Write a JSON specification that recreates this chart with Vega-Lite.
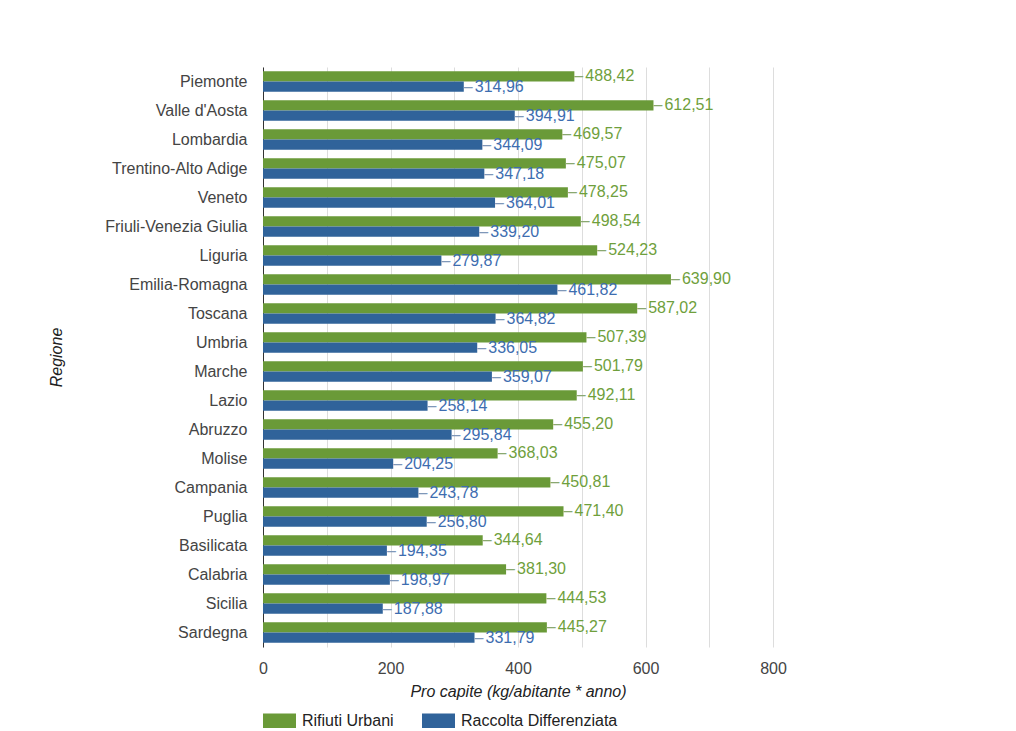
{
  "$schema": "https://vega.github.io/schema/vega-lite/v6.json",
  "width": 510,
  "height": 580,
  "autosize": {"type": "none"},
  "padding": {"left": 263, "top": 67, "right": 243, "bottom": 84},
  "background": "#ffffff",
  "data": {
    "values": [
      {"regione": "Piemonte", "serie": "Rifiuti Urbani", "valore": 488.42},
      {"regione": "Piemonte", "serie": "Raccolta Differenziata", "valore": 314.96},
      {"regione": "Valle d'Aosta", "serie": "Rifiuti Urbani", "valore": 612.51},
      {"regione": "Valle d'Aosta", "serie": "Raccolta Differenziata", "valore": 394.91},
      {"regione": "Lombardia", "serie": "Rifiuti Urbani", "valore": 469.57},
      {"regione": "Lombardia", "serie": "Raccolta Differenziata", "valore": 344.09},
      {"regione": "Trentino-Alto Adige", "serie": "Rifiuti Urbani", "valore": 475.07},
      {"regione": "Trentino-Alto Adige", "serie": "Raccolta Differenziata", "valore": 347.18},
      {"regione": "Veneto", "serie": "Rifiuti Urbani", "valore": 478.25},
      {"regione": "Veneto", "serie": "Raccolta Differenziata", "valore": 364.01},
      {"regione": "Friuli-Venezia Giulia", "serie": "Rifiuti Urbani", "valore": 498.54},
      {"regione": "Friuli-Venezia Giulia", "serie": "Raccolta Differenziata", "valore": 339.20},
      {"regione": "Liguria", "serie": "Rifiuti Urbani", "valore": 524.23},
      {"regione": "Liguria", "serie": "Raccolta Differenziata", "valore": 279.87},
      {"regione": "Emilia-Romagna", "serie": "Rifiuti Urbani", "valore": 639.90},
      {"regione": "Emilia-Romagna", "serie": "Raccolta Differenziata", "valore": 461.82},
      {"regione": "Toscana", "serie": "Rifiuti Urbani", "valore": 587.02},
      {"regione": "Toscana", "serie": "Raccolta Differenziata", "valore": 364.82},
      {"regione": "Umbria", "serie": "Rifiuti Urbani", "valore": 507.39},
      {"regione": "Umbria", "serie": "Raccolta Differenziata", "valore": 336.05},
      {"regione": "Marche", "serie": "Rifiuti Urbani", "valore": 501.79},
      {"regione": "Marche", "serie": "Raccolta Differenziata", "valore": 359.07},
      {"regione": "Lazio", "serie": "Rifiuti Urbani", "valore": 492.11},
      {"regione": "Lazio", "serie": "Raccolta Differenziata", "valore": 258.14},
      {"regione": "Abruzzo", "serie": "Rifiuti Urbani", "valore": 455.20},
      {"regione": "Abruzzo", "serie": "Raccolta Differenziata", "valore": 295.84},
      {"regione": "Molise", "serie": "Rifiuti Urbani", "valore": 368.03},
      {"regione": "Molise", "serie": "Raccolta Differenziata", "valore": 204.25},
      {"regione": "Campania", "serie": "Rifiuti Urbani", "valore": 450.81},
      {"regione": "Campania", "serie": "Raccolta Differenziata", "valore": 243.78},
      {"regione": "Puglia", "serie": "Rifiuti Urbani", "valore": 471.40},
      {"regione": "Puglia", "serie": "Raccolta Differenziata", "valore": 256.80},
      {"regione": "Basilicata", "serie": "Rifiuti Urbani", "valore": 344.64},
      {"regione": "Basilicata", "serie": "Raccolta Differenziata", "valore": 194.35},
      {"regione": "Calabria", "serie": "Rifiuti Urbani", "valore": 381.30},
      {"regione": "Calabria", "serie": "Raccolta Differenziata", "valore": 198.97},
      {"regione": "Sicilia", "serie": "Rifiuti Urbani", "valore": 444.53},
      {"regione": "Sicilia", "serie": "Raccolta Differenziata", "valore": 187.88},
      {"regione": "Sardegna", "serie": "Rifiuti Urbani", "valore": 445.27},
      {"regione": "Sardegna", "serie": "Raccolta Differenziata", "valore": 331.79}
    ]
  },
  "encoding": {
    "y": {
      "field": "regione",
      "type": "nominal",
      "sort": null,
      "scale": {"paddingInner": 0.3, "paddingOuter": 0.15},
      "axis": {
        "title": "Regione",
        "titleFontStyle": "italic",
        "titleFontWeight": "normal",
        "titleFontSize": 16,
        "titleColor": "#222222",
        "titlePadding": 40,
        "labelFontSize": 16,
        "labelColor": "#444444",
        "labelPadding": 16,
        "ticks": false,
        "domainColor": "#333333",
        "grid": false
      }
    },
    "yOffset": {
      "field": "serie",
      "type": "nominal",
      "sort": ["Rifiuti Urbani", "Raccolta Differenziata"]
    },
    "x": {
      "field": "valore",
      "type": "quantitative",
      "scale": {"domain": [0, 800], "nice": false},
      "axis": {
        "title": "Pro capite (kg/abitante * anno)",
        "titleFontStyle": "italic",
        "titleFontWeight": "normal",
        "titleFontSize": 16,
        "titleColor": "#222222",
        "titlePadding": 7,
        "values": [0, 100, 200, 300, 400, 500, 600, 700, 800],
        "labelExpr": "datum.value % 200 === 0 ? datum.label : ''",
        "labelFlush": false,
        "labelFontSize": 16,
        "labelColor": "#444444",
        "labelPadding": 13,
        "ticks": false,
        "domain": false,
        "grid": true,
        "gridColor": "#dddddd"
      }
    }
  },
  "layer": [
    {
      "mark": {"type": "bar"},
      "encoding": {
        "color": {
          "field": "serie",
          "type": "nominal",
          "sort": ["Rifiuti Urbani", "Raccolta Differenziata"],
          "scale": {"domain": ["Rifiuti Urbani", "Raccolta Differenziata"], "range": ["#6a9a38", "#30639a"]},
          "legend": {
            "title": null,
            "orient": "none",
            "legendX": 0,
            "legendY": 637,
            "direction": "horizontal",
            "symbolType": "M-1,-0.44H1V0.44H-1Z",
            "symbolSize": 1089,
            "symbolStrokeWidth": 0,
            "symbolOpacity": 1,
            "labelFontSize": 16,
            "labelColor": "#222222",
            "labelOffset": 6,
            "columnPadding": 28
          }
        }
      }
    },
    {
      "mark": {"type": "text", "align": "left", "baseline": "middle", "dx": 0, "fontSize": 16},
      "encoding": {
        "text": {"value": "–"},
        "color": {
          "field": "serie",
          "type": "nominal",
          "scale": {"domain": ["Rifiuti Urbani", "Raccolta Differenziata"], "range": ["#8aa870", "#7f97b8"]},
          "legend": null
        }
      }
    },
    {
      "mark": {"type": "text", "align": "left", "baseline": "middle", "dx": 11, "fontSize": 16},
      "encoding": {
        "text": {"field": "valore", "type": "quantitative", "format": ".2f"},
        "color": {
          "field": "serie",
          "type": "nominal",
          "scale": {"domain": ["Rifiuti Urbani", "Raccolta Differenziata"], "range": ["#6f9f3c", "#3d6db0"]},
          "legend": null
        }
      }
    }
  ],
  "resolve": {"scale": {"color": "independent"}, "legend": {"color": "independent"}},
  "config": {
    "font": "Liberation Sans",
    "view": {"stroke": null},
    "locale": {
      "number": {"decimal": ",", "thousands": ".", "grouping": [3], "currency": ["€", ""]}
    }
  }
}
